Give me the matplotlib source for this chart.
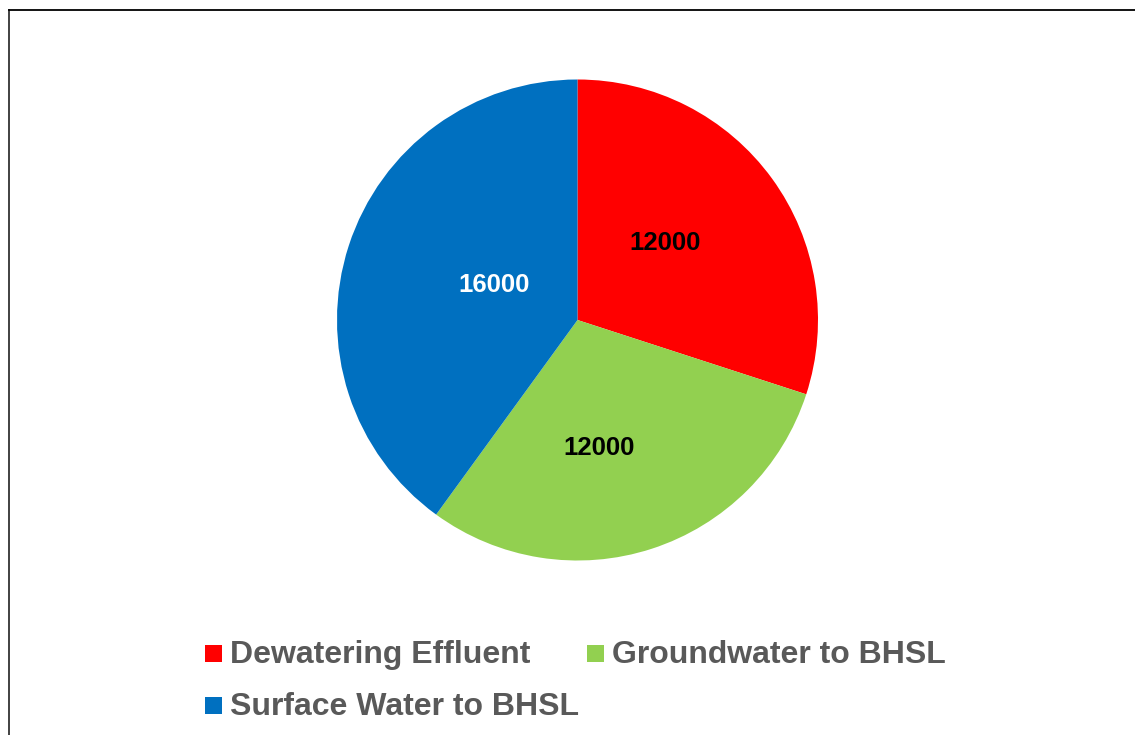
import matplotlib
matplotlib.use("Agg")
import matplotlib.pyplot as plt
from matplotlib.patches import Rectangle
from matplotlib.lines import Line2D
import numpy as np

# Water volumes by source
categories = ["Dewatering Effluent", "Groundwater to BHSL", "Surface Water to BHSL"]
values = [12000, 12000, 16000]
colors = ["#FF0000", "#92D050", "#0070C0"]
label_colors = ["black", "black", "white"]

# Label placement inside each wedge (radius fraction, angle shift in degrees)
label_radius = [0.49, 0.53, 0.38]
label_shift = [6.3, -8.3, -6.0]

W, H = 1135, 735
fig = plt.figure(figsize=(W / 100, H / 100), dpi=100)
fig.patch.set_facecolor("white")

FONT = "Liberation Sans"

# Pie axes: centre (577.5, 320) px, radius 240.5 px
cx, cy, r = 577.5, 320.0, 240.5
ax = fig.add_axes([(cx - r) / W, (H - cy - r) / H, 2 * r / W, 2 * r / H])
wedges, _ = ax.pie(values, colors=colors, startangle=90, counterclock=False,
                   radius=1.0, wedgeprops=dict(linewidth=0))
ax.set_xlim(-1, 1)
ax.set_ylim(-1, 1)
ax.set_aspect("equal")
ax.axis("off")

for w, val, rad, shift, tc in zip(wedges, values, label_radius, label_shift, label_colors):
    mid = np.deg2rad((w.theta1 + w.theta2) / 2 + shift)
    ax.text(rad * np.cos(mid), rad * np.sin(mid), f"{val}", ha="center", va="center_baseline",
            fontsize=18.5, fontweight="bold", color=tc, family=FONT)

# Legend drawn in pixel layout, row-major order
legend_pos = [(205, 653), (587, 653), (205, 705)]
for (x, yc), name, col in zip(legend_pos, categories, colors):
    fig.patches.append(Rectangle(((x) / W, (H - yc - 8.5) / H), 17 / W, 17 / H,
                                 transform=fig.transFigure, facecolor=col,
                                 edgecolor="none", figure=fig))
    fig.text((x + 25) / W, (H - yc - 10) / H, name, ha="left", va="baseline",
             fontsize=23, fontweight="bold", color="#595959", family=FONT)

# Outer frame (left and top edges)
fig.add_artist(Line2D([8.5 / W, 8.5 / W], [0, (H - 10) / H], transform=fig.transFigure,
                      color="#333333", linewidth=1.3))
fig.add_artist(Line2D([8.5 / W, 1.0], [(H - 10) / H, (H - 10) / H], transform=fig.transFigure,
                      color="#000000", linewidth=1.3))

fig.savefig("out.png", dpi=100, facecolor="white")
